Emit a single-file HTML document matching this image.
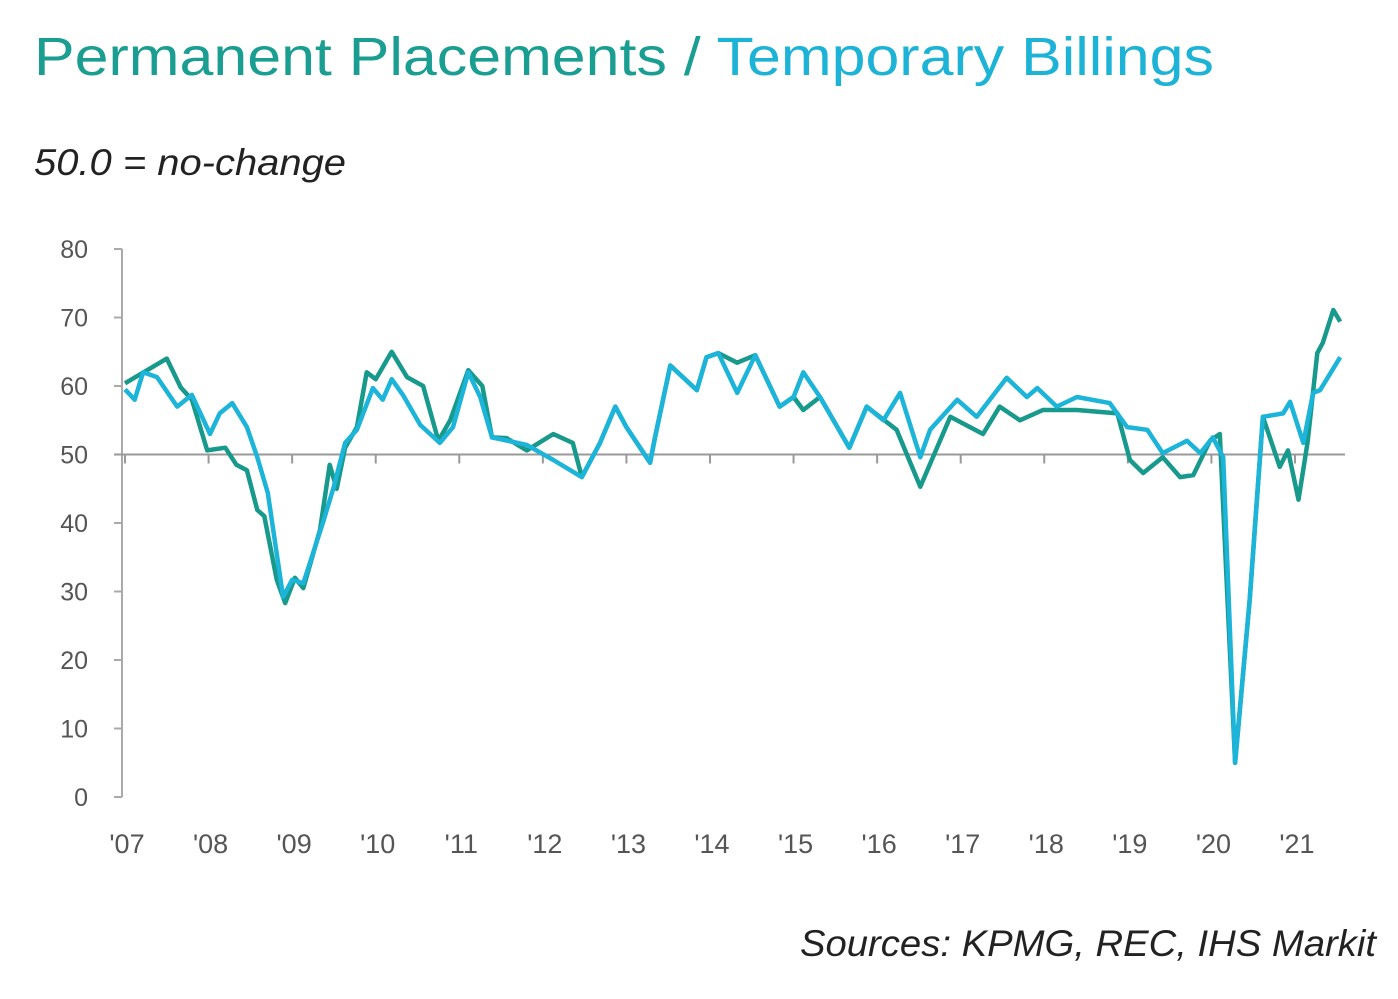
<!DOCTYPE html>
<html><head><meta charset="utf-8"><style>
body{margin:0;background:#fff;width:1398px;height:994px;overflow:hidden;font-family:"Liberation Sans",sans-serif}
</style></head><body>
<svg width="1398" height="994" viewBox="0 0 1398 994">
<text x="34" y="75" font-size="54" fill="#1a9e92" textLength="1180" lengthAdjust="spacingAndGlyphs">Permanent Placements /<tspan fill="#1cb3d6"> Temporary Billings</tspan></text>
<text x="34" y="175" font-size="37" font-style="italic" fill="#222" textLength="312" lengthAdjust="spacingAndGlyphs">50.0 = no-change</text>
<text x="800" y="956" font-size="37" font-style="italic" fill="#222" textLength="576" lengthAdjust="spacingAndGlyphs">Sources: KPMG, REC, IHS Markit</text>
<g id="axes"></g>
<g id="series"></g>
</svg>
<script>
const yTicks=[0,10,20,30,40,50,60,70,80];
const years=["'07","'08","'09","'10","'11","'12","'13","'14","'15","'16","'17","'18","'19","'20","'21"];
const permMonths=[0,6,8,9.6,11.8,14.4,16,17.5,19,20,21.8,23,24.4,25.6,28,29.4,30.4,31.6,33.3,34.7,36,38.3,40.5,42.8,45,46.7,49.3,51.3,52.7,54.8,57.7,61.5,64.3,65.6,68.2,70.4,72,75.4,76.1,78.3,82.1,83.5,85.2,87.9,90.5,94,96,97.4,99.8,104,106.5,110.8,114.2,116.6,118.5,123.2,125.6,128.5,131.8,136.7,142.5,144.3,146.2,149,151.5,153.4,155.8,157.2,159.4,161.5,163.4,165.8,167,168.5,169.8,171.2,172,173.5,174.5];
const permValues=[60.4,64,59.8,58,50.6,51,48.5,47.7,41.9,41,31.7,28.3,32,30.5,39,48.5,45,51,54,62,61,65,61.3,60,52,55,62.3,60,52.5,52.4,50.6,53,51.7,46.7,51.7,57,54,48.8,52.5,63,59.4,64.2,64.8,63.4,64.5,57,58.4,56.5,58.4,51,57,53.6,45.3,51,55.5,53,57,55,56.5,56.5,56,49.2,47.3,49.6,46.7,47,52,53,5,28.8,55.5,48.2,50.6,43.4,51.7,64.8,66.3,71.1,69.4];
const tempMonths=[0,1.4,2.6,4.6,7.5,9.6,12.2,13.6,15.4,17.5,19,20.5,22.7,24,25.6,28.4,29.9,31.6,33.3,35.6,37,38.3,39.9,42.4,45.2,47.1,49.3,51,52.7,57.7,61.5,65.6,68.2,70.4,72,75.4,76.1,78.3,82.1,83.5,85.2,87.9,90.5,94,96,97.4,99.8,104,106.5,108.9,111.3,114.2,115.6,119.5,122.3,126.6,129.5,131,133.8,136.7,141.4,143.9,146.8,149,152.5,154.4,156.2,157.7,159.4,161.5,163.4,166.3,167.3,169.2,170.6,171.6,174.5];
const tempValues=[59.5,58,62,61.3,57,58.7,53,56,57.5,54,49.6,44.4,29.2,31.7,31.2,40,45,51.7,53.6,59.7,58,61,58.7,54.3,51.7,54,62,58.4,52.5,51.4,49.2,46.7,51.7,57,54,48.8,52.5,63,59.4,64.2,64.8,59,64.5,57,58.4,62,58.4,51,57,55,59,49.6,53.6,58,55.5,61.2,58.4,59.7,57,58.4,57.5,54,53.6,50.2,52,50.2,52.5,49.6,5,28.8,55.5,56,57.7,51.7,59,59.4,64.2];
const NS="http://www.w3.org/2000/svg";
const X0=125,MW=83.57/12,Y0=797,YS=6.85;
const xs=m=>X0+m*MW, ys=v=>Y0-v*YS;
const ax=document.getElementById('axes');
function mk(tag,attrs,parent){const e=document.createElementNS(NS,tag);for(const k in attrs)e.setAttribute(k,attrs[k]);parent.appendChild(e);return e;}
const yl=mk('line',{x1:122,y1:ys(80),x2:122,y2:ys(0),stroke:'#aaa','stroke-width':2},ax);


yTicks.forEach(v=>{
  const t=mk('line',{x1:114,y1:ys(v),x2:122,y2:ys(v),stroke:'#aaa','stroke-width':2},ax);
  
  
  const l=mk('text',{x:88,y:ys(v)+9,'font-size':25,fill:'#555','text-anchor':'end'},ax);
  l.textContent=v;
  
  
});
const bl=mk('line',{x1:114,y1:ys(50),x2:1345,y2:ys(50),stroke:'#999','stroke-width':2},ax);


years.forEach((y,i)=>{
  const x=xs(i*12);
  const t=mk('line',{x1:x,y1:ys(50),x2:x,y2:ys(50)+9,stroke:'#999','stroke-width':2},ax);
  
  
  const l=mk('text',{x:x+2,y:853,'font-size':27,fill:'#555','text-anchor':'middle'},ax);
  l.textContent=y;
  
  
});
const sg=document.getElementById('series');
function draw(ms,vs,color,name){
  const d=ms.map((m,i)=>(i?'L':'M')+xs(m).toFixed(1)+' '+ys(vs[i]).toFixed(1)).join(' ');
  const p=mk('path',{d:d,fill:'none',stroke:color,'stroke-width':4.5,'stroke-linejoin':'round'},sg);
  
  
}
draw(permMonths,permValues,'#17998b','permanent-placements-line');
draw(tempMonths,tempValues,'#1cb4d8','temporary-billings-line');
</script>
</body></html>
